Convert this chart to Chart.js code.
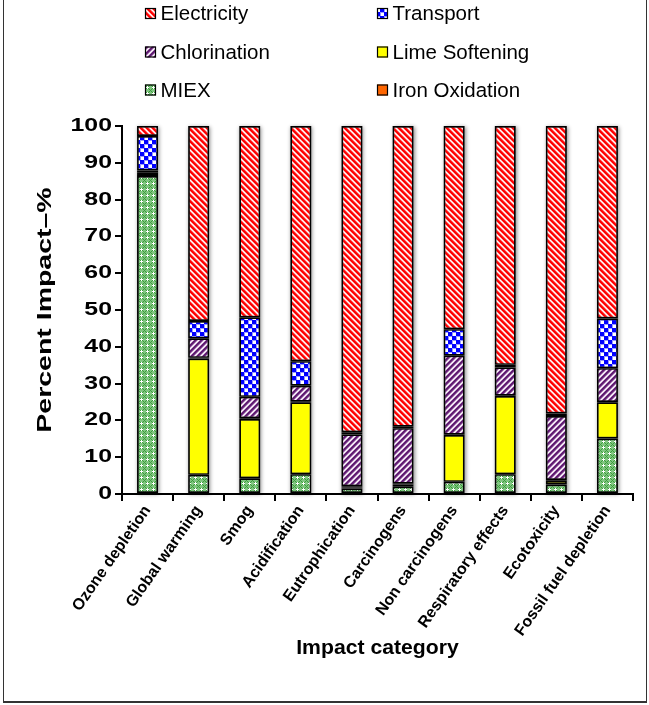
<!DOCTYPE html>
<html>
<head>
<meta charset="utf-8">
<script src="https://cdn.jsdelivr.net/npm/chart.js@4/dist/chart.umd.min.js"></script>
<style>
  html, body { margin: 0; padding: 0; background: #ffffff; }
  #wrap { width: 649px; height: 705px; }
</style>
</head>
<body>
<div id="wrap"><canvas id="c" width="649" height="705"></canvas></div>
<script>
// Impact categories along the x axis
const categories = ['Ozone depletion', 'Global warming', 'Smog', 'Acidification', 'Eutrophication',
  'Carcinogens', 'Non carcinogens', 'Respiratory effects', 'Ecotoxicity', 'Fossil fuel depletion'];

// Share of each treatment process in every impact category (%), stacked bottom to top
const miex          = [86.4, 5.2, 4.3, 5.4, 1.5, 2.0, 3.3, 5.4, 2.6, 15.1];
const limeSoftening = [0.3, 31.6, 16.1, 19.5, 0.3, 0.6, 12.7, 21.2, 1.0, 9.8];
const ironOxidation = [0.6, 0.2, 0.2, 0.2, 0.3, 0.2, 0.1, 0.1, 0.2, 0.1];
const chlorination  = [0.6, 5.3, 5.8, 4.3, 14.1, 15.1, 21.5, 7.7, 17.4, 9.2];
const transport     = [9.4, 4.7, 21.6, 6.7, 0.6, 0.4, 7.2, 0.7, 0.7, 13.5];
const electricity   = [2.7, 53.0, 52.0, 63.9, 83.2, 81.7, 55.2, 64.9, 78.1, 52.3];

const yTicks = [0, 10, 20, 30, 40, 50, 60, 70, 80, 90, 100];

const FONT = '"Liberation Sans", Arial, Helvetica, sans-serif';
const canvas = document.getElementById('c');
const ctx = canvas.getContext('2d');

// Wide lettering for the axis texts: bold text is stretched along its baseline,
// by a factor picked from its font size.
const textStretch = { 18: 1.38, 19.5: 1.46, 20: 1.06, 16: 1.0 };
const nativeFillText = CanvasRenderingContext2D.prototype.fillText;
ctx.fillText = function (text, x, y, maxWidth) {
  const m = /bold\s+([\d.]+)px/.exec(this.font);
  const k = m ? (textStretch[parseFloat(m[1])] || 1) : 1;
  if (k === 1) return nativeFillText.call(this, text, x, y, maxWidth);
  this.save();
  this.scale(k, 1);
  nativeFillText.call(this, text, x / k, y);
  this.restore();
};

// Small pixel tiles used as hatch fills
function tile(size, painter) {
  const t = document.createElement('canvas');
  t.width = t.height = size;
  const g = t.getContext('2d');
  for (let y = 0; y < size; y++) {
    for (let x = 0; x < size; x++) {
      g.fillStyle = painter(x, y);
      g.fillRect(x, y, 1, 1);
    }
  }
  return ctx.createPattern(t, 'repeat');
}

// red / white "\" stripes
const stripeRed = tile(6, (x, y) => {
  const k = ((x - y) % 6 + 6) % 6;
  return ['#ff0000', '#ff0000', '#ff2020', '#ffa0a0', '#ffffff', '#ffa0a0'][k];
});
// purple / white "/" stripes
const stripePurple = tile(6, (x, y) => {
  const k = (x + y) % 6;
  return ['#5e1a70', '#5e1a70', '#7a3a8a', '#c8a6cf', '#ffffff', '#c8a6cf'][k];
});
// blue checks with white squares
const checkBlue = tile(8, (x, y) => {
  const a = (x % 8 < 4), b = (y % 8 < 4);
  const inner = (x % 4 >= 1 && x % 4 <= 3) && (y % 4 >= 1 && y % 4 <= 3);
  if (a === b && inner) return '#ffffff';
  if (a === b) return '#9a9aff';
  return '#0000ff';
});
// green with white crosses
const crossGreen = tile(6, (x, y) => {
  const cx = 3, cy = 3;
  if ((x === cx && Math.abs(y - cy) <= 1) || (y === cy && Math.abs(x - cx) <= 1)) return '#ffffff';
  if ((x + y) % 6 === 0 || ((x - y) % 6 + 6) % 6 === 0) return '#3c9c3c';
  return '#80c680';
});

const datasets = [
  { label: 'MIEX', data: miex, backgroundColor: crossGreen },
  { label: 'Lime Softening', data: limeSoftening, backgroundColor: '#ffff00' },
  { label: 'Iron Oxidation', data: ironOxidation, backgroundColor: '#ff6600' },
  { label: 'Chlorination', data: chlorination, backgroundColor: stripePurple },
  { label: 'Transport', data: transport, backgroundColor: checkBlue },
  { label: 'Electricity', data: electricity, backgroundColor: stripeRed }
].map(d => Object.assign(d, {
  borderColor: '#000000',
  borderWidth: 1.7,
  borderSkipped: false,
  categoryPercentage: 1.0,
  barPercentage: 0.41
}));

// Soft grey halo behind each stacked column
const barShadow = {
  id: 'barShadow',
  beforeDatasetsDraw(chart) {
    const c = chart.ctx;
    const metas = chart.getSortedVisibleDatasetMetas();
    c.save();
    c.shadowColor = 'rgba(0,0,0,0.45)';
    c.shadowBlur = 4;
    c.shadowOffsetX = 1;
    c.shadowOffsetY = 1;
    c.fillStyle = '#777777';
    chart.data.labels.forEach((_, i) => {
      let top = Infinity, bottom = -Infinity, x = 0, w = 0;
      metas.forEach(m => {
        const el = m.data[i];
        if (!el) return;
        const p = el.getProps(['x', 'y', 'base', 'width'], true);
        top = Math.min(top, p.y, p.base);
        bottom = Math.max(bottom, p.y, p.base);
        x = p.x; w = p.width;
      });
      c.fillRect(x - w / 2, top, w, bottom - top);
    });
    c.restore();
  }
};

// Two-column legend above the plot
const legendLayout = [
  ['Electricity', 0, 0], ['Transport', 1, 0],
  ['Chlorination', 0, 1], ['Lime Softening', 1, 1],
  ['MIEX', 0, 2], ['Iron Oxidation', 1, 2]
];
const legendCols = [145, 377];
const legendRows = [13.5, 52, 90];
const gridLegend = {
  id: 'gridLegend',
  afterDraw(chart) {
    const c = chart.ctx;
    c.save();
    c.font = '20.5px ' + FONT;
    c.textBaseline = 'middle';
    legendLayout.forEach(([label, col, row]) => {
      const ds = chart.data.datasets.find(d => d.label === label);
      const x = legendCols[col], y = legendRows[row];
      c.fillStyle = ds.backgroundColor;
      c.fillRect(x, y - 5.5, 11, 11);
      c.strokeStyle = '#000000';
      c.lineWidth = 1.2;
      c.strokeRect(x + 0.5, y - 5, 10, 10);
      c.fillStyle = '#000000';
      c.fillText(label, x + 15.5, y + 1);
    });
    c.restore();
  }
};

// Frame round the figure
const frame = {
  id: 'frame',
  afterDraw(chart) {
    const c = chart.ctx;
    c.save();
    c.strokeStyle = '#333333';
    c.lineWidth = 1;
    c.beginPath();
    c.moveTo(3.5, 0); c.lineTo(3.5, 702);
    c.moveTo(646.5, 0); c.lineTo(646.5, 702);
    c.stroke();
    c.lineWidth = 2;
    c.beginPath();
    c.moveTo(3, 702); c.lineTo(647, 702);
    c.stroke();
    c.restore();
  }
};

new Chart(ctx, {
  type: 'bar',
  data: { labels: categories, datasets },
  plugins: [barShadow, gridLegend, frame],
  options: {
    responsive: false,
    animation: false,
    events: [],
    layout: { padding: { top: 126, left: 10, right: 16, bottom: 10 } },
    plugins: { legend: { display: false }, tooltip: { enabled: false } },
    scales: {
      x: {
        stacked: true,
        border: { display: true, color: '#000000', width: 2 },
        grid: { display: true, offset: true, drawOnChartArea: false, drawTicks: true, tickLength: 7, color: '#000000', lineWidth: 2 },
        ticks: {
          color: '#000000',
          font: { family: FONT, size: 16, weight: 'bold' },
          minRotation: 55, maxRotation: 55,
          padding: 1,
          autoSkip: false
        },
        title: {
          display: true,
          text: 'Impact category',
          color: '#000000',
          font: { family: FONT, size: 20, weight: 'bold' },
          padding: { top: 0, bottom: 35 }
        },
        afterFit(scale) { scale.height = 201; }
      },
      y: {
        stacked: true,
        min: 0, max: 100,
        afterBuildTicks(scale) { scale.ticks = yTicks.map(v => ({ value: v })); },
        border: { display: true, color: '#000000', width: 2 },
        grid: { display: true, drawOnChartArea: false, drawTicks: true, tickLength: 7, color: '#000000', lineWidth: 2 },
        ticks: {
          color: '#000000',
          font: { family: FONT, size: 18, weight: 'bold' },
          padding: 3
        },
        title: {
          display: true,
          text: 'Percent Impact\u2013%',
          color: '#000000',
          font: { family: FONT, size: 19.5, weight: 'bold' },
          padding: { top: 24, bottom: 0 }
        },
        afterFit(scale) { scale.width = 112; }
      }
    }
  }
});
</script>
</body>
</html>
